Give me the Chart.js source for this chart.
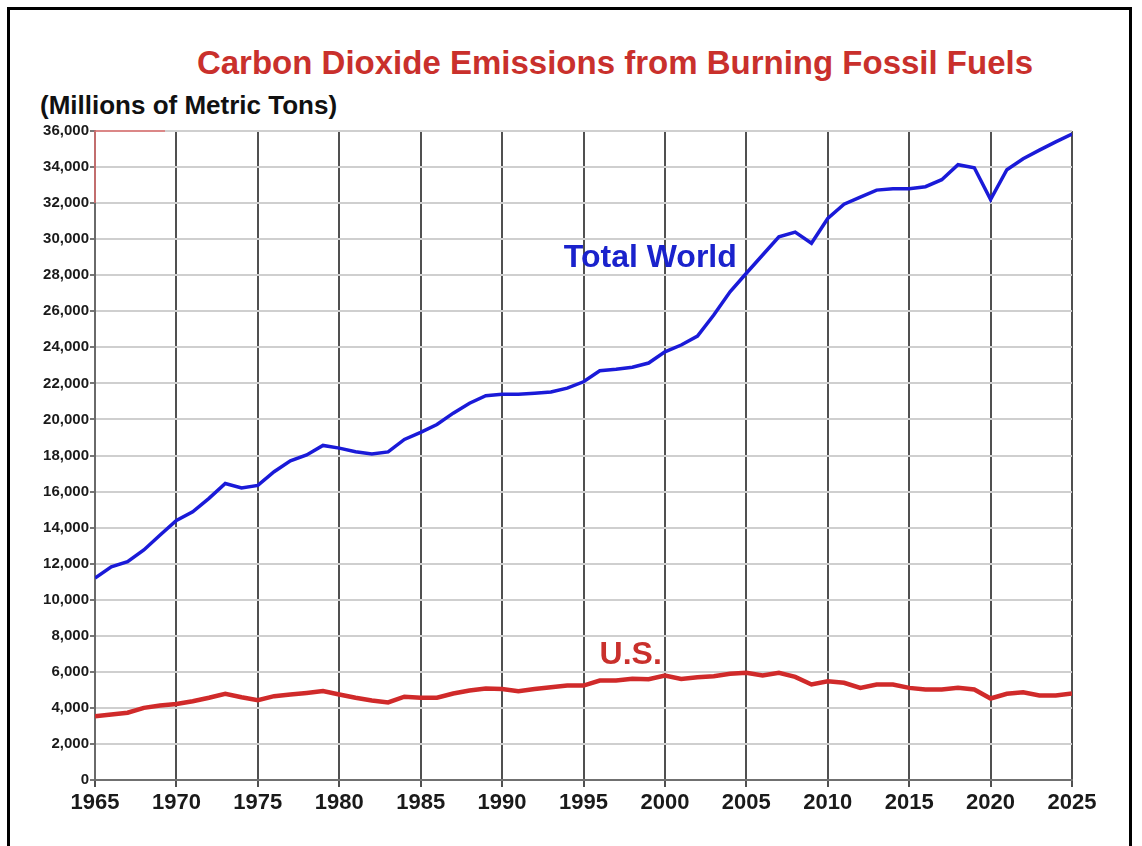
<!DOCTYPE html>
<html>
<head>
<meta charset="utf-8">
<style>
    html, body { margin: 0; padding: 0; background: #fff; overflow: hidden; }
    #wrap { position: relative; width: 1142px; height: 846px; }
    #frame { position: absolute; left: 7px; top: 7px; width: 1119px; height: 900px; border: 3px solid #000; }
    .title { position: absolute; font-family: "Liberation Sans", Arial, sans-serif; font-weight: bold; white-space: nowrap; }
    #t1 { left: 0; width: 1230px; text-align: center; top: 43px; font-size: 33px; color: #c9302c; line-height: 40px; }
    #t2 { left: 40px; top: 90px; font-size: 26px; color: #111; line-height: 30px; }
    #chartBox { position: absolute; left: 0; top: 0; width: 1142px; height: 846px; }
</style>
</head>
<body>
<div id="wrap">
    <div id="frame"></div>
    <div class="title" id="t1">Carbon Dioxide Emissions from Burning Fossil Fuels</div>
    <div class="title" id="t2">(Millions of Metric Tons)</div>
    <div id="chartBox"><canvas id="co2Chart"></canvas></div>
</div>

<script src="https://cdn.jsdelivr.net/npm/chart.js"></script>
<script>
// years on the x axis
const years = [
    1965, 1966, 1967, 1968, 1969, 1970, 1971, 1972, 1973, 1974,
    1975, 1976, 1977, 1978, 1979, 1980, 1981, 1982, 1983, 1984,
    1985, 1986, 1987, 1988, 1989, 1990, 1991, 1992, 1993, 1994,
    1995, 1996, 1997, 1998, 1999, 2000, 2001, 2002, 2003, 2004,
    2005, 2006, 2007, 2008, 2009, 2010, 2011, 2012, 2013, 2014,
    2015, 2016, 2017, 2018, 2019, 2020, 2021, 2022, 2023, 2024, 2025
];

// million metric tons
const worldTotal = [
    11200, 11830, 12110, 12760, 13590, 14400, 14880, 15620, 16450, 16200,
    16340, 17100, 17700, 18030, 18560, 18410, 18210, 18080, 18200, 18890,
    19280, 19720, 20350, 20900, 21320, 21400, 21400, 21450, 21520, 21740,
    22090, 22700, 22780, 22900, 23130, 23750, 24130, 24620, 25790, 27080,
    28110, 29120, 30130, 30390, 29770, 31150, 31940, 32330, 32720, 32800,
    32800, 32910, 33300, 34130, 33960, 32200, 33850, 34460, 34940, 35400, 35830
];

const usTotal = [
    3530, 3630, 3730, 4000, 4130, 4220, 4370, 4560, 4780, 4590,
    4430, 4650, 4740, 4830, 4930, 4740, 4560, 4410, 4300, 4620,
    4560, 4560, 4800, 4960, 5070, 5050, 4930, 5050, 5150, 5240,
    5240, 5520, 5520, 5610, 5590, 5800, 5610, 5700, 5760, 5890,
    5950, 5800, 5950, 5720, 5300, 5480, 5390, 5110, 5300, 5300,
    5110, 5020, 5020, 5110, 5020, 4520, 4780, 4870, 4690, 4690, 4800
];

// in-chart labels: [text, year, value, colour]
const seriesLabels = [
    ['Total World', 1999.1, 28950, '#1a22cc'],
    ['U.S.', 1997.9, 6950, '#c9302c']
];

const FONT = '"Liberation Sans", Arial, sans-serif';

const cornerMark = {
    id: 'cornerMark',
    afterDatasetsDraw(chart) {
        const { ctx, scales: { x, y } } = chart;
        ctx.save();
        ctx.strokeStyle = '#e07070';
        ctx.lineWidth = 1.5;
        ctx.beginPath();
        ctx.moveTo(x.getPixelForValue(1969.3), y.getPixelForValue(36000));
        ctx.lineTo(x.getPixelForValue(1965), y.getPixelForValue(36000));
        ctx.lineTo(x.getPixelForValue(1965), y.getPixelForValue(32000));
        ctx.stroke();

        ctx.font = 'bold 32px ' + FONT;
        ctx.textAlign = 'center';
        ctx.textBaseline = 'middle';
        seriesLabels.forEach(([text, yr, val, color]) => {
            ctx.fillStyle = color;
            ctx.fillText(text, x.getPixelForValue(yr), y.getPixelForValue(val));
        });
        ctx.restore();
    }
};

new Chart(document.getElementById('co2Chart'), {
    type: 'line',
    data: {
        datasets: [
            {
                label: 'Total World',
                data: years.map((yr, i) => ({ x: yr, y: worldTotal[i] })),
                borderColor: '#1a1ad8',
                borderWidth: 3.5,
                pointRadius: 0,
                tension: 0
            },
            {
                label: 'U.S.',
                data: years.map((yr, i) => ({ x: yr, y: usTotal[i] })),
                borderColor: '#d02a2a',
                borderWidth: 4.5,
                pointRadius: 0,
                tension: 0
            }
        ]
    },
    options: {
        responsive: true,
        maintainAspectRatio: false,
        animation: false,
        layout: { padding: { top: 131, right: 70, left: 0, bottom: 0 } },
        plugins: {
            legend: { display: false },
            tooltip: { enabled: false }
        },
        scales: {
            x: {
                type: 'linear',
                min: 1965,
                max: 2025,
                afterFit: s => { s.height = 66; },
                ticks: {
                    stepSize: 5,
                    padding: 3,
                    color: '#1a1a1a',
                    font: { family: FONT, size: 22, weight: 'bold' },
                    callback: v => String(v),
                    maxRotation: 0
                },
                grid: { color: '#505050', lineWidth: 2, tickLength: 7, tickColor: '#505050' },
                border: { color: '#707070', width: 2 }
            },
            y: {
                min: 0,
                max: 36000,
                afterFit: s => { s.width = 95; },
                ticks: {
                    stepSize: 2000,
                    padding: 1,
                    color: '#1a1a1a',
                    font: { family: FONT, size: 15, weight: 'bold' },
                    callback: v => v.toLocaleString('en-US')
                },
                grid: { color: '#cfcfcf', lineWidth: 2, tickLength: 5, tickColor: '#777' },
                border: { color: '#6a6a6a', width: 2 }
            }
        }
    },
    plugins: [cornerMark]
});
</script>
</body>
</html>
